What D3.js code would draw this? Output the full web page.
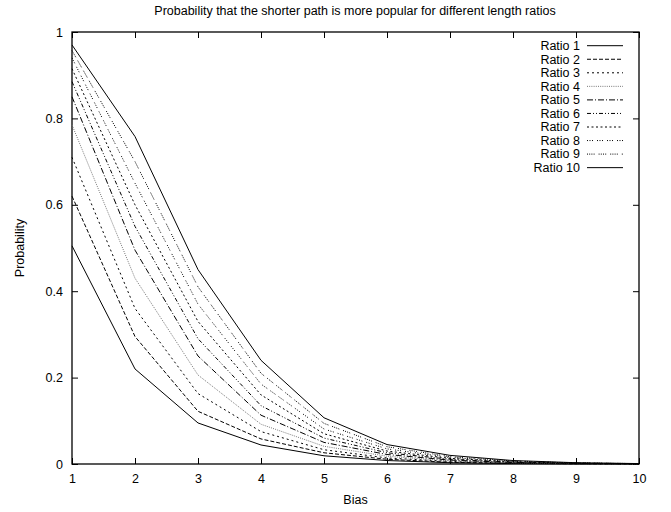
<!DOCTYPE html>
<meta charset="utf-8">
<style>
body { margin: 0; background: #fff; }
svg { font-family: "Liberation Sans", Arial, sans-serif; }
.axis path, .axis line { stroke: #000; }
.axis text { font-size: 12.5px; fill: #000; }
</style>
<svg width="671" height="512"></svg>
<script src="https://cdn.jsdelivr.net/npm/d3@7"></script>
<script>

var bias = [1, 2, 3, 4, 5, 6, 7, 8, 9, 10];

var ratio1  = [0.505, 0.22,  0.095, 0.044, 0.019, 0.008, 0.003, 0.0012, 0.0005, 0.0002];
var ratio2  = [0.62,  0.295, 0.122, 0.058, 0.026, 0.011, 0.004, 0.0015, 0.0006, 0.0002];
var ratio3  = [0.71,  0.36,  0.163, 0.075, 0.033, 0.014, 0.006, 0.002,  0.0008, 0.0003];
var ratio4  = [0.785, 0.43,  0.206, 0.092, 0.041, 0.018, 0.007, 0.003,  0.001,  0.0004];
var ratio5  = [0.85,  0.495, 0.25,  0.113, 0.05,  0.022, 0.009, 0.0035, 0.0013, 0.0005];
var ratio6  = [0.885, 0.55,  0.29,  0.135, 0.06,  0.026, 0.011, 0.004,  0.0016, 0.0006];
var ratio7  = [0.915, 0.60,  0.33,  0.16,  0.07,  0.03,  0.013, 0.005,  0.0019, 0.0007];
var ratio8  = [0.94,  0.65,  0.37,  0.185, 0.081, 0.035, 0.015, 0.006,  0.0022, 0.0008];
var ratio9  = [0.957, 0.70,  0.41,  0.21,  0.094, 0.04,  0.017, 0.007,  0.0026, 0.0009];
var ratio10 = [0.97,  0.758, 0.45,  0.24,  0.107, 0.045, 0.02,  0.008,  0.003,  0.001];

var seriesNames = ["Ratio 1", "Ratio 2", "Ratio 3", "Ratio 4", "Ratio 5",
                   "Ratio 6", "Ratio 7", "Ratio 8", "Ratio 9", "Ratio 10"];
var seriesValues = [ratio1, ratio2, ratio3, ratio4, ratio5,
                    ratio6, ratio7, ratio8, ratio9, ratio10];

var xTicks = [1, 2, 3, 4, 5, 6, 7, 8, 9, 10];
var yTicks = [0, 0.2, 0.4, 0.6, 0.8, 1];

// gnuplot-ish line styles
var dashes = [null, "4,2", "2,3", "1,1.2", "6,2,1,2", "4,2,1,2,1,2",
              "2,2.5", "1,1.5,1,1.5,1,4", "1,1.2,1,1.2,1,1.2,1,4", null];
var strokes = ["#000", "#000", "#000", "#777", "#000", "#000", "#000", "#000", "#000", "#000"];

var svg = d3.select("svg"),
    margin = {top: 32, right: 32, bottom: 48, left: 72},
    width = +svg.attr("width") - margin.left - margin.right,
    height = +svg.attr("height") - margin.top - margin.bottom;

var x = d3.scaleLinear().domain([1, 10]).range([margin.left, margin.left + width]);
var y = d3.scaleLinear().domain([0, 1]).range([margin.top + height, margin.top]);

svg.append("text")
    .attr("x", 355)
    .attr("y", 15)
    .attr("text-anchor", "middle")
    .style("font-size", "12.5px")
    .text("Probability that the shorter path is more popular for different length ratios");

svg.append("g")
    .attr("class", "axis")
    .attr("transform", "translate(0," + (margin.top + height) + ")")
    .call(d3.axisBottom(x).tickValues(xTicks).tickSizeInner(-6).tickSizeOuter(0).tickPadding(10).tickFormat(d3.format("d")));

svg.append("g")
    .attr("class", "axis")
    .attr("transform", "translate(0," + margin.top + ")")
    .call(d3.axisTop(x).tickValues(xTicks).tickSizeInner(-6).tickSizeOuter(0).tickFormat(""));

svg.append("g")
    .attr("class", "axis")
    .attr("transform", "translate(" + margin.left + ",0)")
    .call(d3.axisLeft(y).tickValues(yTicks).tickSizeInner(-6).tickSizeOuter(0).tickPadding(9).tickFormat(d3.format("")));

svg.append("g")
    .attr("class", "axis")
    .attr("transform", "translate(" + (margin.left + width) + ",0)")
    .call(d3.axisRight(y).tickValues(yTicks).tickSizeInner(-6).tickSizeOuter(0).tickFormat(""));

svg.selectAll(".axis .domain").remove();

svg.append("rect")
    .attr("x", margin.left)
    .attr("y", margin.top)
    .attr("width", width)
    .attr("height", height)
    .attr("fill", "none")
    .attr("stroke", "#000")
    .attr("stroke-width", 1.3);

svg.append("text")
    .attr("x", (margin.left + margin.left + width) / 2)
    .attr("y", 504)
    .attr("text-anchor", "middle")
    .style("font-size", "12.5px")
    .text("Bias");

svg.append("text")
    .attr("transform", "translate(24,248) rotate(-90)")
    .attr("text-anchor", "middle")
    .style("font-size", "12.5px")
    .text("Probability");

var line = d3.line()
    .x(function(d, i) { return x(bias[i]); })
    .y(function(d) { return y(d); });

svg.selectAll(".series")
    .data(seriesValues)
  .enter().append("path")
    .attr("class", "series")
    .attr("d", line)
    .attr("fill", "none")
    .attr("stroke", function(d, i) { return strokes[i]; })
    .attr("stroke-width", 1)
    .attr("stroke-dasharray", function(d, i) { return dashes[i]; });

var legend = svg.selectAll(".legend")
    .data(seriesNames)
  .enter().append("g")
    .attr("class", "legend")
    .attr("transform", function(d, i) { return "translate(0," + (45.7 + i * 13.55) + ")"; });

legend.append("text")
    .attr("x", 580)
    .attr("dy", "0.35em")
    .attr("text-anchor", "end")
    .style("font-size", "12.5px")
    .text(function(d) { return d; });

legend.append("line")
    .attr("x1", 587)
    .attr("x2", 623)
    .attr("stroke", function(d, i) { return strokes[i]; })
    .attr("stroke-width", 1)
    .attr("stroke-dasharray", function(d, i) { return dashes[i]; });

</script>
